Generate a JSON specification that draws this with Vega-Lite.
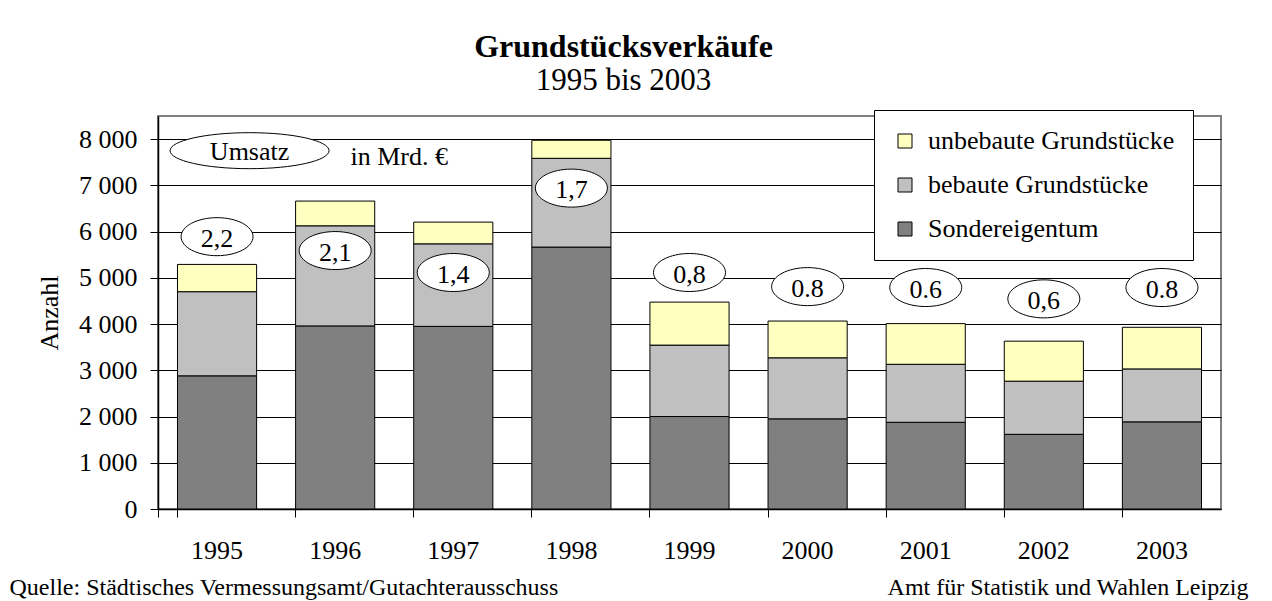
{
  "$schema": "https://vega.github.io/schema/vega-lite/v6.json",
  "autosize": {"type": "none"},
  "width": 1063,
  "height": 393,
  "padding": {"left": 158, "top": 116, "right": 51, "bottom": 92},
  "background": "white",
  "title": {
    "text": "Grundstücksverkäufe",
    "subtitle": "1995 bis 2003",
    "anchor": "middle",
    "frame": "group",
    "dx": -66,
    "offset": 13,
    "font": "Liberation Serif",
    "fontSize": 32,
    "fontWeight": "bold",
    "color": "#000",
    "subtitleFont": "Liberation Serif",
    "subtitleFontSize": 31,
    "subtitleColor": "#000",
    "subtitlePadding": 2
  },
  "config": {
    "view": {"stroke": "#808080", "strokeWidth": 2},
    "font": "Liberation Serif",
    "axis": {"labelFont": "Liberation Serif", "titleFont": "Liberation Serif", "labelColor": "#000", "titleColor": "#000"},
    "legend": {"labelFont": "Liberation Serif"}
  },
  "datasets": {
    "sales": [
      {"year": "1995", "type": "Sondereigentum", "count": 2880},
      {"year": "1995", "type": "bebaute Grundstücke", "count": 1820},
      {"year": "1995", "type": "unbebaute Grundstücke", "count": 590},
      {"year": "1996", "type": "Sondereigentum", "count": 3960},
      {"year": "1996", "type": "bebaute Grundstücke", "count": 2165},
      {"year": "1996", "type": "unbebaute Grundstücke", "count": 535},
      {"year": "1997", "type": "Sondereigentum", "count": 3950},
      {"year": "1997", "type": "bebaute Grundstücke", "count": 1785},
      {"year": "1997", "type": "unbebaute Grundstücke", "count": 470},
      {"year": "1998", "type": "Sondereigentum", "count": 5665},
      {"year": "1998", "type": "bebaute Grundstücke", "count": 1920},
      {"year": "1998", "type": "unbebaute Grundstücke", "count": 390},
      {"year": "1999", "type": "Sondereigentum", "count": 2000},
      {"year": "1999", "type": "bebaute Grundstücke", "count": 1545},
      {"year": "1999", "type": "unbebaute Grundstücke", "count": 930},
      {"year": "2000", "type": "Sondereigentum", "count": 1950},
      {"year": "2000", "type": "bebaute Grundstücke", "count": 1320},
      {"year": "2000", "type": "unbebaute Grundstücke", "count": 795},
      {"year": "2001", "type": "Sondereigentum", "count": 1875},
      {"year": "2001", "type": "bebaute Grundstücke", "count": 1255},
      {"year": "2001", "type": "unbebaute Grundstücke", "count": 880},
      {"year": "2002", "type": "Sondereigentum", "count": 1615},
      {"year": "2002", "type": "bebaute Grundstücke", "count": 1150},
      {"year": "2002", "type": "unbebaute Grundstücke", "count": 865},
      {"year": "2003", "type": "Sondereigentum", "count": 1885},
      {"year": "2003", "type": "bebaute Grundstücke", "count": 1145},
      {"year": "2003", "type": "unbebaute Grundstücke", "count": 900}
    ],
    "umsatz": [
      {"year": "1995", "label": "2,2", "pos": 5890},
      {"year": "1996", "label": "2,1", "pos": 5590},
      {"year": "1997", "label": "1,4", "pos": 5115},
      {"year": "1998", "label": "1,7", "pos": 6940},
      {"year": "1999", "label": "0,8", "pos": 5115},
      {"year": "2000", "label": "0.8", "pos": 4810},
      {"year": "2001", "label": "0.6", "pos": 4790},
      {"year": "2002", "label": "0,6", "pos": 4545},
      {"year": "2003", "label": "0.8", "pos": 4790}
    ]
  },
  "resolve": {"axis": {"x": "independent"}},
  "layer": [
    {
      "data": {"name": "sales"},
      "mark": {"type": "bar", "stroke": "#000", "strokeWidth": 1},
      "encoding": {
        "x": {
          "field": "year", "type": "ordinal",
          "scale": {"paddingInner": 0.33, "paddingOuter": 0.165},
          "axis": {
            "orient": "bottom",
            "labelAngle": 0, "labelFontSize": 26, "labelPadding": 20,
            "domainColor": "#000", "domainWidth": 1.5, "tickColor": "#000", "tickSize": 8,
            "bandPosition": 0, "tickExtra": true,
            "title": "Quelle: Städtisches Vermessungsamt/Gutachterausschuss",
            "titleFontSize": 24, "titleFontWeight": "normal",
            "titleAlign": "left", "titleBaseline": "alphabetic",
            "titleX": -149, "titleY": 85
          }
        },
        "y": {
          "field": "count", "type": "quantitative", "stack": "zero",
          "scale": {"domain": [0, 8500], "nice": false},
          "title": "Anzahl",
          "axis": {
            "values": [0, 1000, 2000, 3000, 4000, 5000, 6000, 7000, 8000],
            "labelExpr": "replace(format(datum.value, ','), ',', ' ')",
            "labelFontSize": 26, "labelPadding": 13,
            "domainColor": "#000", "domainWidth": 1.5, "tickColor": "#000", "tickSize": 8,
            "grid": true, "gridColor": "#000", "gridWidth": 1,
            "title": "Anzahl", "titleFontSize": 26, "titleFontWeight": "normal", "titlePadding": 16
          }
        },
        "color": {
          "field": "type", "type": "nominal",
          "scale": {
            "domain": ["unbebaute Grundstücke", "bebaute Grundstücke", "Sondereigentum"],
            "range": ["#ffffc0", "#c0c0c0", "#808080"]
          },
          "legend": {
            "title": null, "orient": "none", "legendX": 716, "legendY": -6,
            "labelFontSize": 26, "labelColor": "#000", "labelOffset": 10, "labelLimit": 500,
            "symbolType": "square", "symbolSize": 196, "symbolStrokeColor": "#000", "symbolStrokeWidth": 1,
            "rowPadding": 18, "padding": 18, "strokeColor": "#000", "fillColor": "white"
          }
        },
        "order": {"field": "type", "sort": "ascending"}
      }
    },
    {
      "data": {"name": "umsatz"},
      "mark": {
        "type": "point",
        "shape": "M -1 0 A 1 0.528 0 1 1 1 0 A 1 0.528 0 1 1 -1 0 Z",
        "size": 5184, "filled": true, "fill": "white", "stroke": "#000", "strokeWidth": 1, "opacity": 1
      },
      "encoding": {
        "x": {
          "field": "year", "type": "ordinal",
          "axis": {
            "orient": "bottom",
            "labels": false, "ticks": false, "domain": false, "grid": false,
            "title": "Amt für Statistik und Wahlen Leipzig",
            "titleFontSize": 24, "titleFontWeight": "normal",
            "titleAlign": "right", "titleBaseline": "alphabetic",
            "titleX": 1090, "titleY": 85
          }
        },
        "y": {"field": "pos", "type": "quantitative", "title": "Anzahl"}
      }
    },
    {
      "data": {"name": "umsatz"},
      "mark": {"type": "text", "fontSize": 26, "font": "Liberation Serif", "color": "#000", "baseline": "middle", "dy": 2},
      "encoding": {
        "x": {"field": "year", "type": "ordinal", "axis": null},
        "y": {"field": "pos", "type": "quantitative", "title": "Anzahl"},
        "text": {"field": "label"}
      }
    },
    {
      "data": {"values": [{"t": "Umsatz"}]},
      "mark": {
        "type": "point",
        "shape": "M -1 0 A 1 0.2264 0 1 1 1 0 A 1 0.2264 0 1 1 -1 0 Z",
        "size": 25281, "filled": true, "fill": "white", "stroke": "#000", "strokeWidth": 1, "opacity": 1,
        "xOffset": 32.5
      },
      "encoding": {
        "x": {"datum": "1995", "type": "ordinal", "axis": null},
        "y": {"datum": 7750, "type": "quantitative", "title": "Anzahl"}
      }
    },
    {
      "data": {"values": [{"t": "Umsatz"}]},
      "mark": {"type": "text", "fontSize": 26, "font": "Liberation Serif", "color": "#000", "baseline": "middle", "dx": 32.5, "dy": 1},
      "encoding": {
        "x": {"datum": "1995", "type": "ordinal", "axis": null},
        "y": {"datum": 7750, "type": "quantitative", "title": "Anzahl"},
        "text": {"field": "t"}
      }
    },
    {
      "data": {"values": [{"t": "in Mrd. €"}]},
      "mark": {"type": "text", "fontSize": 26, "font": "Liberation Serif", "color": "#000", "baseline": "middle", "dx": 64},
      "encoding": {
        "x": {"datum": "1996", "type": "ordinal", "axis": null},
        "y": {"datum": 7620, "type": "quantitative", "title": "Anzahl"},
        "text": {"field": "t"}
      }
    }
  ]
}
